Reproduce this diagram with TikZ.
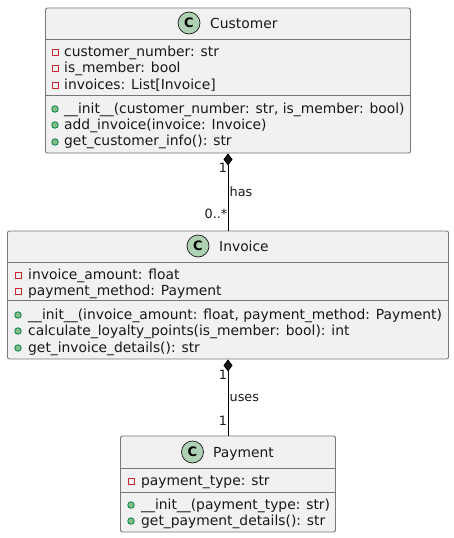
\documentclass[tikz,border=0pt]{standalone}
\usepackage{fontspec}
\setmainfont{DejaVu Sans}
\usetikzlibrary{arrows.meta}
\definecolor{boxfill}{HTML}{F1F1F1}
\definecolor{boxline}{HTML}{777777}
\definecolor{ink}{HTML}{181818}
\definecolor{badge}{HTML}{ADD1B2}
\definecolor{privred}{HTML}{C82930}
\definecolor{publine}{HTML}{038048}
\definecolor{pubfill}{HTML}{84BE84}
\tikzset{
  x=1pt,y=-1pt,
  classbox/.style={draw=boxline,fill=boxfill,line width=0.9pt,rounded corners=2pt,minimum width=#1,inner sep=0pt},
  sep/.style={draw=boxline,line width=0.9pt},
  member/.style={anchor=base west,inner sep=0pt,font=\fontsize{13.85}{15}\selectfont,text=ink},
  title/.style={anchor=base west,inner sep=0pt,font=\fontsize{13.85}{15}\selectfont,text=ink},
  lab/.style={inner sep=0pt,font=\fontsize{12.8}{14}\selectfont,text=ink},
  cbadge/.style={circle,draw=ink,fill=badge,line width=0.7pt,minimum size=22pt,inner sep=0pt,font=\fontsize{13}{15}\bfseries\selectfont,text=black},
  priv/.style={draw=privred,line width=0.8pt,minimum size=6pt,inner sep=0pt},
  pub/.style={circle,draw=publine,fill=pubfill,line width=0.8pt,minimum size=6.5pt,inner sep=0pt},
  link/.style={draw=black,line width=0.9pt},
  comp/.style={link,{Diamond[fill=ink,length=12pt,width=9pt]}-}
}
\begin{document}
\begin{tikzpicture}
\useasboundingbox (0,0) rectangle (454,538);
% boxes
\node[classbox=365pt,minimum height=145pt] (cust) at (228,80.5) {};
\node[classbox=441pt,minimum height=128pt] (inv) at (228,295) {};
\node[classbox=215pt,minimum height=96pt] (pay) at (228,484) {};
% separators
\draw[sep] (cust.west |- 0,39) -- (cust.east |- 0,39);
\draw[sep] (cust.west |- 0,95) -- (cust.east |- 0,95);
\draw[sep] (inv.west |- 0,262) -- (inv.east |- 0,262);
\draw[sep] (inv.west |- 0,300) -- (inv.east |- 0,300);
\draw[sep] (pay.west |- 0,468) -- (pay.east |- 0,468);
\draw[sep] (pay.west |- 0,492) -- (pay.east |- 0,492);
% Customer
\node[cbadge] (cc) at (189,23) {C};
\node[title] (ct) at (210,28) {Customer};
\node[priv] (c1p) at (55,52) {}; \node[member] (c1) at (64,56) {customer\_number: str};
\node[priv] (c2p) at (55,68) {}; \node[member] (c2) at (64,72) {is\_member: bool};
\node[priv] (c3p) at (55,85) {}; \node[member] (c3) at (64,89) {invoices: List[Invoice]};
\node[pub] (c4p) at (55,109) {}; \node[member] (c4) at (64,113) {\_\_init\_\_(customer\_number: str, is\_member: bool)};
\node[pub] (c5p) at (55,125) {}; \node[member] (c5) at (64,129) {add\_invoice(invoice: Invoice)};
\node[pub] (c6p) at (55,142) {}; \node[member] (c6) at (64,145) {get\_customer\_info(): str};
% Invoice
\node[cbadge] (ic) at (198,246) {C};
\node[title] (it) at (219,251) {Invoice};
\node[priv] (i1p) at (18,275) {}; \node[member] (i1) at (28,279) {invoice\_amount: float};
\node[priv] (i2p) at (18,291) {}; \node[member] (i2) at (28,295) {payment\_method: Payment};
\node[pub] (i3p) at (18,315) {}; \node[member] (i3) at (28,319) {\_\_init\_\_(invoice\_amount: float, payment\_method: Payment)};
\node[pub] (i4p) at (18,331) {}; \node[member] (i4) at (28,335) {calculate\_loyalty\_points(is\_member: bool): int};
\node[pub] (i5p) at (18,348) {}; \node[member] (i5) at (28,352) {get\_invoice\_details(): str};
% Payment
\node[cbadge] (pc) at (192.5,452) {C};
\node[title] (pt) at (213,457) {Payment};
\node[priv] (p1p) at (131,481) {}; \node[member] (p1) at (141,485) {payment\_type: str};
\node[pub] (p2p) at (131,505) {}; \node[member] (p2) at (141,509) {\_\_init\_\_(payment\_type: str)};
\node[pub] (p3p) at (131,521) {}; \node[member] (p3) at (141,525) {get\_payment\_details(): str};
% connectors
\draw[comp] (cust.south) -- (inv.north);
\draw[comp] (inv.south) -- (pay.north);
% labels
\node[lab] (l1) at (223,168) {1};
\node[lab] (l2) at (216,214) {0..*};
\node[lab,anchor=west] (l3) at (229.5,191.5) {has};
\node[lab] (l4) at (223,375) {1};
\node[lab] (l5) at (223,420.5) {1};
\node[lab,anchor=west] (l6) at (229.5,398) {uses};
\end{tikzpicture}
\end{document}
